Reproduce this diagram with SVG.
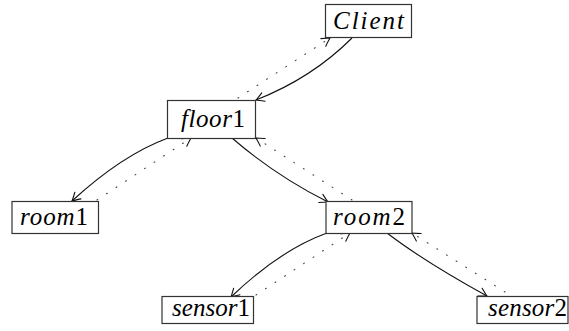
<svg xmlns="http://www.w3.org/2000/svg" width="569" height="331" viewBox="0 0 569 331">
  <defs>
    <style>
      .box { fill: #ffffff; stroke: #333333; stroke-width: 1.2; }
      .lbl { font-family: "Liberation Serif", "Times New Roman", serif; font-style: italic; font-size: 25px; fill: #000000; }
      .num { font-style: normal; }
      .call { fill: none; stroke: #111111; stroke-width: 1.1; marker-end: url(#head); }
      .reply { fill: none; stroke: #444444; stroke-width: 1.1; stroke-dasharray: 0.9 10.5; stroke-linecap: round; marker-end: url(#head); }
    </style>
    <marker id="head" viewBox="-10 -6 12 12" markerWidth="12" markerHeight="12" refX="0" refY="0" orient="auto" markerUnits="userSpaceOnUse">
      <path d="M -8,-4.5 Q -2.5,-1.2 0,0 Q -2.5,1.2 -8,4.5" fill="none" stroke="#111111" stroke-width="1.1" stroke-dasharray="none" stroke-linecap="round"/>
    </marker>
  </defs>

  <!-- connectors: solid = request down the tree, dotted = reply back up -->
  <g id="connectors">
    <path class="call" d="M 352,38 Q 312,78 256,100"/>
    <path class="reply" d="M 238,98 L 330,38"/>

    <path class="call" d="M 168,138 Q 122,155 72,201"/>
    <path class="reply" d="M 97,200 L 191,138"/>

    <path class="call" d="M 232,138 Q 276,176 328,202"/>
    <path class="reply" d="M 352,200 L 256,138"/>

    <path class="call" d="M 327,233 Q 280,250 231,297"/>
    <path class="reply" d="M 256,295 L 350,233"/>

    <path class="call" d="M 387,233 Q 425,262 487,296"/>
    <path class="reply" d="M 505,292 L 412,233"/>
  </g>

  <g id="client">
    <rect class="box" x="325.5" y="4.5" width="86" height="33"/>
    <text class="lbl" x="333" y="29" textLength="71" lengthAdjust="spacing">Client</text>
  </g>

  <g id="floor1">
    <rect class="box" x="167.5" y="100.5" width="88" height="38"/>
    <text class="lbl" x="181" y="127" textLength="64" lengthAdjust="spacing">floor<tspan class="num">1</tspan></text>
  </g>

  <g id="room1">
    <rect class="box" x="12" y="201.5" width="86.5" height="32"/>
    <text class="lbl" x="20" y="225" textLength="68" lengthAdjust="spacing">room<tspan class="num">1</tspan></text>
  </g>

  <g id="room2">
    <rect class="box" x="326" y="201.5" width="86" height="32"/>
    <text class="lbl" x="333" y="225" textLength="72" lengthAdjust="spacing">room<tspan class="num">2</tspan></text>
  </g>

  <g id="sensor1">
    <rect class="box" x="162" y="296.5" width="91.5" height="27"/>
    <text class="lbl" x="172" y="316" textLength="78" lengthAdjust="spacing">sensor<tspan class="num">1</tspan></text>
  </g>

  <g id="sensor2">
    <rect class="box" x="477" y="296.5" width="91" height="27"/>
    <text class="lbl" x="488" y="316" textLength="79" lengthAdjust="spacing">sensor<tspan class="num">2</tspan></text>
  </g>
</svg>
